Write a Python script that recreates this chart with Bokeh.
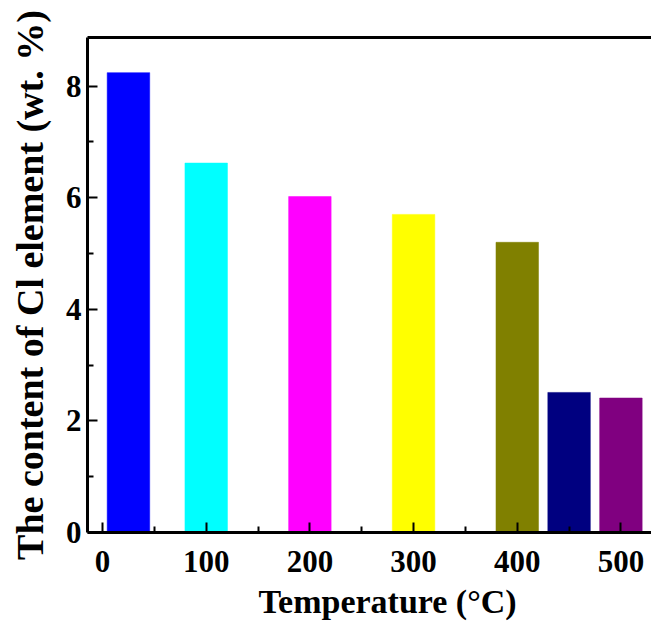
from bokeh.plotting import figure
from bokeh.models import LinearAxis, FixedTicker, Range1d, ColumnDataSource, Title
from bokeh.embed import file_html
from bokeh.resources import INLINE

temperature = [25, 100, 200, 300, 400, 450, 500]
cl_content = [8.24, 6.62, 6.02, 5.70, 5.20, 2.51, 2.41]
bar_colors = ["#0000FF", "#00FFFF", "#FF00FF", "#FFFF00", "#808000", "#000080", "#800080"]
x_ticks = [0, 100, 200, 300, 400, 500]
y_ticks = [0, 2, 4, 6, 8]
x_title = "Temperature (°C)"
y_title = "The content of Cl element (wt. %)"

FONT = "Liberation Serif"

p = figure(width=651, height=626, output_backend="svg", toolbar_location=None,
           x_range=Range1d(-14.5, 529.5), y_range=Range1d(0, 8.87),
           y_axis_label=y_title,
           min_border_left=87, min_border_top=37, min_border_bottom=94, min_border_right=0)
p.outline_line_color = None
p.grid.grid_line_color = None
p.background_fill_color = "white"

src = ColumnDataSource(dict(x=temperature, top=cl_content, color=bar_colors))
p.vbar(x="x", top="top", bottom=0, width=41, fill_color="color", line_color="color",
       line_alpha=0.5, source=src)

p.xaxis.ticker = FixedTicker(ticks=x_ticks, minor_ticks=[50, 150, 250, 350, 450])
p.yaxis.ticker = FixedTicker(ticks=y_ticks, minor_ticks=[1, 3, 5, 7])

for ax in (p.xaxis[0], p.yaxis[0]):
    ax.axis_line_width = 3
    ax.axis_line_color = "black"
    ax.major_tick_in = 10
    ax.major_tick_out = 0
    ax.minor_tick_in = 6
    ax.minor_tick_out = 0
    ax.major_tick_line_width = 2
    ax.minor_tick_line_width = 2
    ax.major_label_text_font = FONT
    ax.major_label_text_font_style = "bold"
    ax.major_label_text_font_size = "31px"
    ax.major_label_text_color = "black"
    ax.axis_label_text_font = FONT
    ax.axis_label_text_font_style = "bold"
    ax.axis_label_text_color = "black"

p.yaxis.axis_label_text_font_size = "38px"
p.xaxis.major_label_standoff = 18
p.yaxis.major_label_standoff = 6
p.yaxis.axis_label_standoff = 12

# x-axis title below, shifted right since the original frame runs past the window
p.add_layout(Title(text=x_title, align="left", offset=171, standoff=13,
                   text_font=FONT, text_font_style="bold", text_font_size="34px",
                   text_color="black"), "below")

top_ax = LinearAxis(ticker=FixedTicker(ticks=[]), axis_line_width=3,
                    major_tick_line_color=None, minor_tick_line_color=None,
                    major_label_text_color=None)
p.add_layout(top_ax, "above")

open("out.html", "w").write(file_html(p, INLINE))
